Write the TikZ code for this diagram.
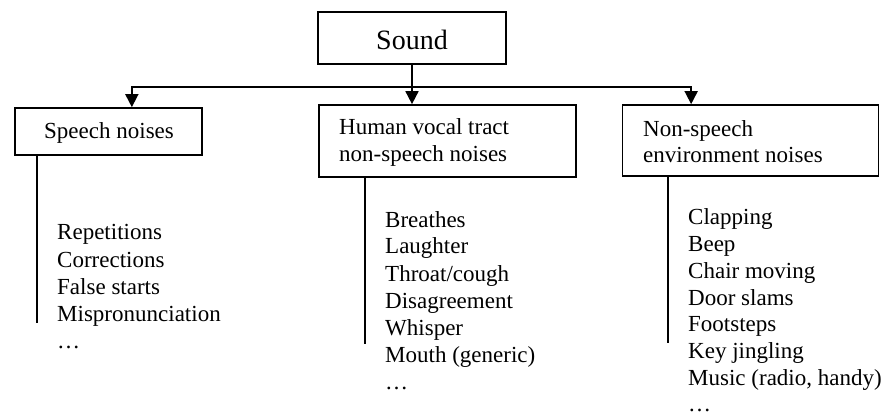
\documentclass[tikz,border=0pt]{standalone}
\usepackage{fontspec}
\setmainfont{Liberation Serif}
\usetikzlibrary{arrows.meta,calc}
\begin{document}
\begin{tikzpicture}[x=1pt,y=-1pt,
  box/.style={draw,line width=1.7pt,inner sep=0pt,rectangle},
  lbl/.style={inner sep=0pt,anchor=base west,font=\fontsize{23}{27}\selectfont},
  conn/.style={line width=1.7pt},
  arr/.style={line width=1.7pt,-{Triangle[width=13pt,length=13pt]}}]
\useasboundingbox (0,0) rectangle (887,417);
% boxes
\node[box,minimum width=188pt,minimum height=52pt,text height=24pt,text depth=0pt,
      font=\fontsize{28}{32}\selectfont] (sound) at (412,38) {Sound};
\node[box,minimum width=187pt,minimum height=47pt] (speech) at (108.5,131.5) {};
\node[box,minimum width=257pt,minimum height=72pt] (human) at (447.5,141) {};
\node[box,minimum width=256pt,minimum height=71pt] (env) at (750.5,140.5) {};
% box texts
\node[lbl] (speechT) at (44,139) {Speech noises};
\node[lbl] (humanT1) at (339,135) {Human vocal tract};
\node[lbl] (humanT2) at (339,162) {non-speech noises};
\node[lbl] (envT1) at (643,137) {Non-speech};
\node[lbl] (envT2) at (643,163) {environment noises};
% connectors
\coordinate (bus) at (412,87);
\coordinate (speechIn) at ($(speech.north west)+(117.7,0)$);
\coordinate (envIn) at ($(env.north west)+(69.5,0)$);
\draw[arr] (sound.south) -- (sound.south |- human.north);
\draw[arr] (bus) -| (speechIn);
\draw[arr] (bus) -| (envIn);
% list rules
\coordinate (speechL) at ($(speech.south west)+(23,0)$);
\coordinate (humanL) at ($(human.south west)+(47,0)$);
\coordinate (envL) at ($(env.south west)+(46.5,0)$);
\draw[conn] (speechL) -- ++(0,167);
\draw[conn] (humanL) -- ++(0,166);
\draw[conn] (envL) -- ++(0,166);
% lists
\foreach \t [count=\i from 0] in {Repetitions,Corrections,False starts,Mispronunciation,\dots}
  \node[lbl] (s\i) at (57,240+27*\i) {\t};
\foreach \t [count=\i from 0] in {Breathes,Laughter,Throat/cough,Disagreement,Whisper,Mouth (generic),\dots}
  \node[lbl] (h\i) at (385,227+27*\i) {\t};
\foreach \t [count=\i from 0] in {Clapping,Beep,Chair moving,Door slams,Footsteps,Key jingling,{Music (radio, handy)},\dots}
  \node[lbl] (e\i) at (688,225+26.7*\i) {\t};
\end{tikzpicture}
\end{document}
